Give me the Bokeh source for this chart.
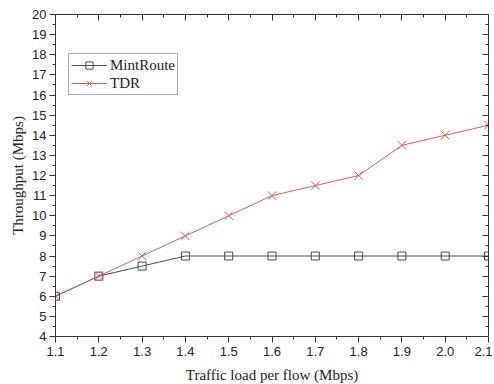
from bokeh.plotting import figure
from bokeh.models import Range1d, LinearAxis, FixedTicker, Legend, LegendItem
from bokeh.embed import file_html
from bokeh.resources import INLINE

load = [1.1, 1.2, 1.3, 1.4, 1.5, 1.6, 1.7, 1.8, 1.9, 2.0, 2.1]
mintroute = [6, 7, 7.5, 8, 8, 8, 8, 8, 8, 8, 8]
tdr = [6, 7, 8, 9, 10, 11, 11.5, 12, 13.5, 14, 14.5]

x_ticks = [1.1, 1.2, 1.3, 1.4, 1.5, 1.6, 1.7, 1.8, 1.9, 2.0, 2.1]
y_ticks = list(range(4, 21))
x_minor = [round((a + b) / 2, 3) for a, b in zip(x_ticks[:-1], x_ticks[1:])]
y_minor = [(a + b) / 2 for a, b in zip(y_ticks[:-1], y_ticks[1:])]

GRAY = "#4a4a4a"
RED = "#dc5a5e"
AX = "#333333"

p = figure(frame_width=433, frame_height=322, output_backend="svg", toolbar_location=None,
           x_range=Range1d(1.1, 2.1), y_range=Range1d(4, 20),
           min_border_left=55, min_border_right=4, min_border_top=14, min_border_bottom=4)
p.grid.visible = False
p.outline_line_color = AX
p.background_fill_color = "white"

def style(ax, inward=False):
    ax.axis_line_color = AX
    ax.major_tick_line_color = AX
    ax.minor_tick_line_color = AX
    if inward:
        ax.major_tick_in = 6
        ax.major_tick_out = 0
        ax.minor_tick_in = 3
        ax.minor_tick_out = 0
    else:
        ax.major_tick_in = 0
        ax.major_tick_out = 6
        ax.minor_tick_in = 0
        ax.minor_tick_out = 3
    ax.major_label_text_font = "Liberation Sans"
    ax.major_label_text_font_size = "13px"
    ax.major_label_text_color = "#222222"
    ax.axis_label_text_font = "Liberation Serif"
    ax.axis_label_text_font_style = "normal"
    ax.axis_label_text_font_size = "15px"
    ax.axis_label_text_color = "#222222"

xb = p.xaxis[0]
xb.ticker = FixedTicker(ticks=x_ticks, minor_ticks=x_minor)
xb.major_label_overrides = {t: f"{t:.1f}" for t in x_ticks}
xb.axis_label = "Traffic load per flow (Mbps)"
style(xb)
xb.major_label_standoff = 4
xb.axis_label_standoff = 8

yl = p.yaxis[0]
yl.ticker = FixedTicker(ticks=y_ticks, minor_ticks=y_minor)
yl.axis_label = "Throughput (Mbps)"
style(yl)
yl.major_label_standoff = 3
yl.axis_label_standoff = 3

xt = LinearAxis(ticker=FixedTicker(ticks=x_ticks, minor_ticks=x_minor))
style(xt, inward=True)
xt.major_label_overrides = {t: "" for t in x_ticks}
xt.major_label_standoff = 0
p.add_layout(xt, "above")
yr = LinearAxis(ticker=FixedTicker(ticks=y_ticks, minor_ticks=y_minor))
style(yr, inward=True)
yr.major_label_overrides = {t: "" for t in y_ticks}
yr.major_label_standoff = 0
p.add_layout(yr, "right")

l1 = p.line(load, mintroute, line_color=GRAY, line_width=1)
m1 = p.scatter(load, mintroute, marker="square", size=8, fill_color="white",
               fill_alpha=0, line_color=GRAY, line_width=1)
l2 = p.line(load, tdr, line_color=RED, line_width=1)
m2 = p.scatter(load, tdr, marker="x", size=12, line_color=RED, line_width=1)

legend = Legend(items=[LegendItem(label="MintRoute", renderers=[l1, m1]),
                       LegendItem(label="TDR", renderers=[l2, m2])],
                location=(13, 241))
legend.label_text_font = "Liberation Serif"
legend.label_text_font_size = "15px"
legend.label_text_color = "#222222"
legend.border_line_color = "#555555"
legend.glyph_width = 36
legend.glyph_height = 18
legend.label_standoff = 3
legend.spacing = 0
legend.padding = 2
legend.margin = 0
legend.label_height = 18
p.add_layout(legend, "center")

open("out.html", "w").write(file_html(p, INLINE))
